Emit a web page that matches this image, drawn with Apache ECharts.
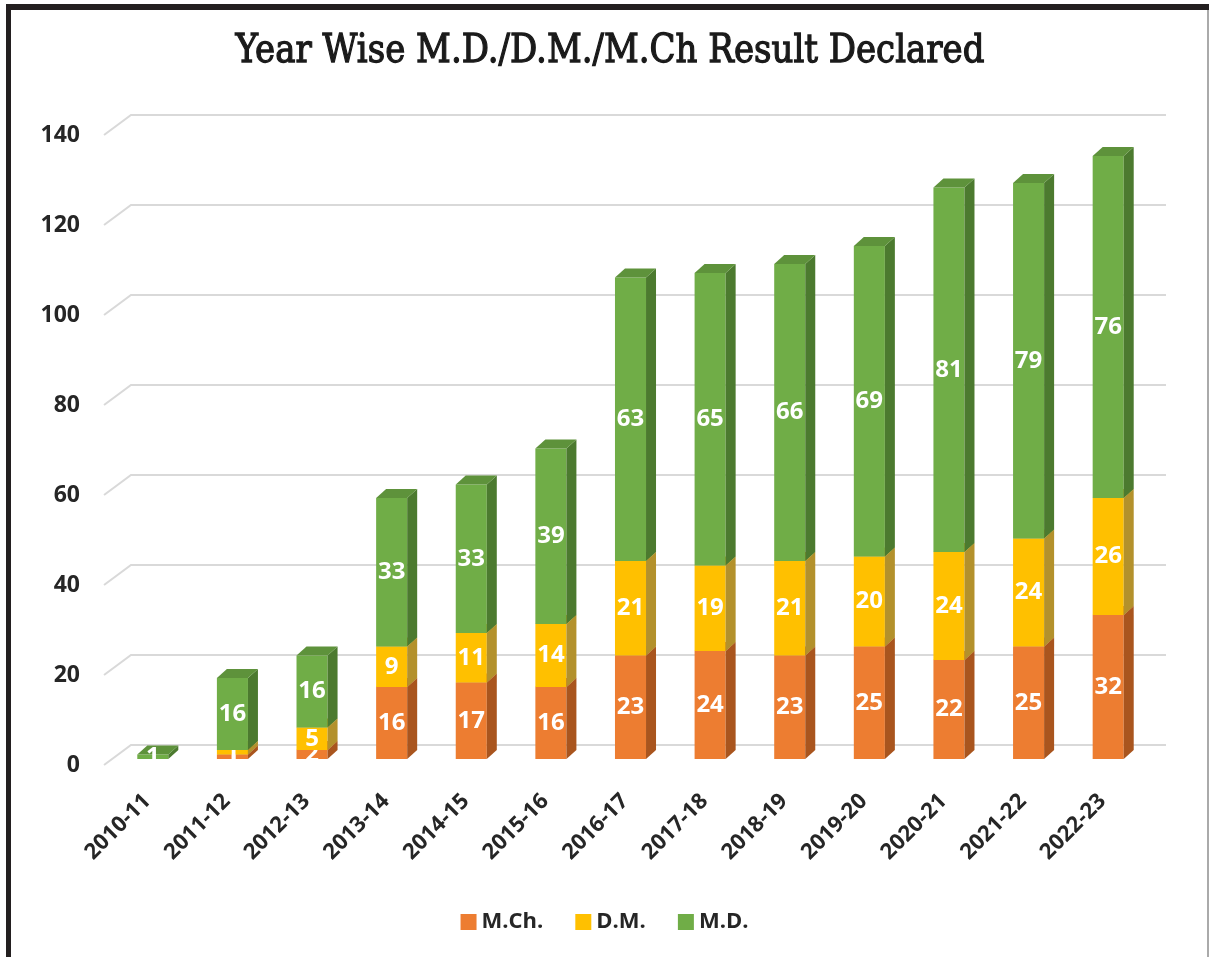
<!DOCTYPE html>
<html><head><meta charset="utf-8">
<script src="https://cdn.jsdelivr.net/npm/echarts@6/dist/echarts.min.js"></script>
<style>html,body{margin:0;padding:0;background:#fff}#c{width:1209px;height:957px}</style>
</head><body><div id="c"></div>
<script>
const categories = ['2010-11','2011-12','2012-13','2013-14','2014-15','2015-16','2016-17','2017-18','2018-19','2019-20','2020-21','2021-22','2022-23'];
const mch = [0, 1, 2, 16, 17, 16, 23, 24, 23, 25, 22, 25, 32];
const dm  = [0, 1, 5, 9, 11, 14, 21, 19, 21, 20, 24, 24, 26];
const md  = [1, 16, 16, 33, 33, 39, 63, 65, 66, 69, 81, 79, 76];
const yTicks = [0, 20, 40, 60, 80, 100, 120, 140];
const seriesNames = ['M.Ch.', 'D.M.', 'M.D.'];
const titleText = 'Year Wise M.D./D.M./M.Ch Result Declared';

const FONT = 'Open Sans';
const palette = [
  {front:'#ED7D31', side:'#A9551E', top:'#C8662A'},
  {front:'#FFC000', side:'#B3912C', top:'#D9A81A'},
  {front:'#70AD47', side:'#4C7A2F', top:'#5E923B'}
];
const DX = 10, DY = -9;

const values = [mch, dm, md];
function stackData(k){
  return categories.map((c,i)=>{
    let base = 0;
    for(let j=0;j<k;j++) base += values[j][i];
    return [i, base, base + values[k][i], values[k][i]];
  });
}

function barRender(k){
  const col = palette[k];
  return function(params, api){
    const i = api.value(0), b = api.value(1), t = api.value(2), v = api.value(3);
    if (v <= 0) return null;
    const p0 = api.coord([i, b]), p1 = api.coord([i, t]);
    const w = api.size([1,0])[0]*0.39;
    const x = p0[0]-w/2;
    const children = [
      {type:'rect', shape:{x:x, y:p1[1], width:w, height:p0[1]-p1[1]}, style:{fill:col.front}},
      {type:'polygon', shape:{points:[[x+w,p1[1]],[x+w+DX,p1[1]+DY],[x+w+DX,p0[1]+DY],[x+w,p0[1]]]}, style:{fill:col.side}},
      {type:'polygon', shape:{points:[[x,p1[1]],[x+DX,p1[1]+DY],[x+w+DX,p1[1]+DY],[x+w,p1[1]]]}, style:{fill:col.top}},
      {type:'text', z2:10, style:{text:String(v), x:p0[0], y:(p0[1]+p1[1])/2, align:'center', verticalAlign:'middle',
        fill:'#fff', font:'bold 24px "'+FONT+'"'}}
    ];
    return {type:'group', children:children};
  };
}

function gridRender(params, api){
  const cs = params.coordSys;
  const v = api.value(0);
  const y = api.coord([0, v])[1];
  return {type:'group', silent:true, children:[
    {type:'polyline', shape:{points:[[cs.x-9, y+6],[cs.x+18, y-14],[cs.x+cs.width+18, y-14]]},
      style:{stroke:'#d9d9d9', lineWidth:2, fill:null}},
    {type:'text', style:{text:String(v), x:cs.x-33, y:y+6, align:'right', verticalAlign:'middle',
      fill:'#262626', font:'bold 23px "'+FONT+'"'}}
  ]};
}

const chart = echarts.init(document.getElementById('c'), null, {renderer:'canvas'});
const series = [{
  type:'custom', name:'grid', silent:true, z:0, renderItem:gridRender,
  data: yTicks.map(v=>[v]), encode:{y:0}
}];
for(let k=0;k<3;k++){
  series.push({type:'custom', name:seriesNames[k], z:2+k, renderItem:barRender(k),
    itemStyle:{color:palette[k].front},
    data:stackData(k), encode:{x:0, y:[1,2]}});
}
chart.setOption({
  animation:false,
  backgroundColor:'#fff',
  legend:{data:seriesNames, bottom:19, left:'center', itemWidth:16, itemHeight:16, itemGap:32,
    icon:'rect', textStyle:{fontFamily:FONT, fontWeight:'bold', fontSize:22, color:'#262626'}},
  grid:{left:113, width:1035, top:129, height:630},
  xAxis:{type:'category', data:categories, axisLine:{show:false}, axisTick:{show:false},
    axisLabel:{rotate:45, margin:33, padding:[0,8,0,0], interval:0, fontFamily:FONT, fontWeight:'bold', fontSize:22, color:'#262626'}},
  yAxis:{type:'value', min:0, max:140, interval:20, splitLine:{show:false}, axisLine:{show:false}, axisTick:{show:false},
    axisLabel:{show:false}},
  graphic:[
    {type:'rect', shape:{x:6,y:4,width:1203,height:6}, style:{fill:'#231f20'}},
    {type:'rect', shape:{x:6,y:4,width:5,height:953}, style:{fill:'#231f20'}},
    {type:'rect', shape:{x:1207,y:10,width:2,height:947}, style:{fill:'#aaaaaa'}},
    {type:'text', x:610, y:52, scaleY:1.15, style:{text:titleText, align:'center', verticalAlign:'middle',
      font:'34px "DejaVu Serif"', fill:'#1a1a1a', stroke:'#1a1a1a', lineWidth:1.1}}
  ],
  series:series
});
</script></body></html>
